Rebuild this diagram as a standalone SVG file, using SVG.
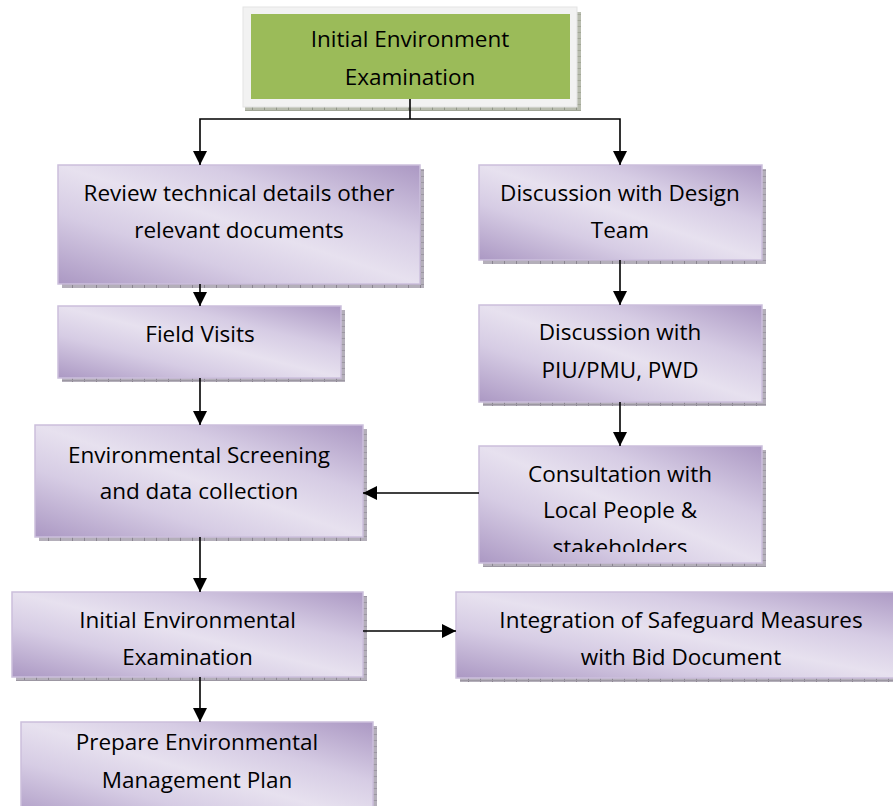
<svg xmlns="http://www.w3.org/2000/svg" width="893" height="806" viewBox="0 0 893 806">
<defs>
<linearGradient id="pg" x1="0" y1="1" x2="1" y2="0">
<stop offset="0" stop-color="#ab98c3"/>
<stop offset="0.3" stop-color="#d6cce4"/>
<stop offset="0.5" stop-color="#e7e1ef"/>
<stop offset="0.7" stop-color="#d6cce4"/>
<stop offset="1" stop-color="#ab98c3"/>
</linearGradient>
<pattern id="hatch" width="12" height="6" patternUnits="userSpaceOnUse">
<rect width="12" height="6" fill="#b4afba"/>
<rect x="0" y="0" width="1" height="6" fill="#8a8590"/>
<rect x="0" y="2" width="12" height="1" fill="#9c97a2"/>
</pattern>
<pattern id="ghatch" width="12" height="6" patternUnits="userSpaceOnUse">
<rect width="12" height="6" fill="#b8bcae"/>
<rect x="0" y="0" width="1" height="6" fill="#8f9486"/>
<rect x="0" y="2" width="12" height="1" fill="#a2a797"/>
</pattern>
<marker id="ah" viewBox="0 0 10 10" refX="10" refY="5" markerWidth="14" markerHeight="14" markerUnits="userSpaceOnUse" orient="auto">
<path d="M0,0 L10,5 L0,10 z" fill="#000"/>
</marker>
<clipPath id="clipC"><rect x="479" y="446" width="283" height="106"/></clipPath>
</defs>
<style>
.box{fill:url(#pg);stroke:#cbbfdc;stroke-width:1.5}
.sh{fill:url(#hatch)}
.t{font-family:"Open Sans","Noto Sans","Liberation Sans",sans-serif;font-size:22.5px;fill:#000;text-anchor:middle}
.c{fill:none;stroke:#000;stroke-width:1.6}
</style>

<g id="n0">
<rect x="245" y="12" width="336" height="99" fill="url(#ghatch)"/>
<rect x="243" y="7" width="334" height="100" fill="#f2f2f2" stroke="#e3e3e3"/>
<rect x="251" y="14" width="319" height="85" fill="#9bbb59"/>
<text class="t" x="410" y="47">Initial Environment</text>
<text class="t" x="410" y="85">Examination</text>
</g>

<g id="n1">
<rect class="sh" x="62" y="169" width="362" height="119"/>
<rect class="box" x="58" y="165" width="362" height="119"/>
<text class="t" x="239" y="201">Review technical details other</text>
<text class="t" x="239" y="238">relevant documents</text>
</g>

<g id="n2">
<rect class="sh" x="62" y="310" width="283" height="72"/>
<rect class="box" x="58" y="306" width="283" height="72"/>
<text class="t" x="200" y="342">Field Visits</text>
</g>

<g id="n3">
<rect class="sh" x="483" y="169" width="283" height="95"/>
<rect class="box" x="479" y="165" width="283" height="95"/>
<text class="t" x="620" y="201">Discussion with Design</text>
<text class="t" x="620" y="238">Team</text>
</g>

<g id="n4">
<rect class="sh" x="483" y="309" width="283" height="97"/>
<rect class="box" x="479" y="305" width="283" height="97"/>
<text class="t" x="620" y="340">Discussion with</text>
<text class="t" x="620" y="378">PIU/PMU, PWD</text>
</g>

<g id="n5">
<rect class="sh" x="483" y="450" width="283" height="117"/>
<rect class="box" x="479" y="446" width="283" height="117"/>
<g clip-path="url(#clipC)">
<text class="t" x="620" y="482">Consultation with</text>
<text class="t" x="620" y="518">Local People &amp;</text>
<text class="t" x="620" y="555">stakeholders</text>
</g>
</g>

<g id="n6">
<rect class="sh" x="39" y="429" width="328" height="112"/>
<rect class="box" x="35" y="425" width="328" height="112"/>
<text class="t" x="199" y="463">Environmental Screening</text>
<text class="t" x="199" y="499">and data collection</text>
</g>

<g id="n7">
<rect class="sh" x="16" y="596" width="351" height="85"/>
<rect class="box" x="12" y="592" width="351" height="85"/>
<text class="t" x="187.5" y="628">Initial Environmental</text>
<text class="t" x="187.5" y="665">Examination</text>
</g>

<g id="n8">
<rect class="sh" x="460" y="596" width="450" height="86"/>
<rect class="box" x="456" y="592" width="450" height="86"/>
<text class="t" x="681" y="628">Integration of Safeguard Measures</text>
<text class="t" x="681" y="665">with Bid Document</text>
</g>

<g id="n9">
<rect class="sh" x="25" y="726" width="352" height="100"/>
<rect class="box" x="21" y="722" width="352" height="100"/>
<text class="t" x="197" y="750">Prepare Environmental</text>
<text class="t" x="197" y="788">Management Plan</text>
</g>

<g id="connectors">
<path class="c" d="M410,99 V119"/>
<path class="c" d="M410,119 H200 V165" marker-end="url(#ah)"/>
<path class="c" d="M410,119 H620 V165" marker-end="url(#ah)"/>
<path class="c" d="M200,284 V306" marker-end="url(#ah)"/>
<path class="c" d="M620,260 V305" marker-end="url(#ah)"/>
<path class="c" d="M200,378 V425" marker-end="url(#ah)"/>
<path class="c" d="M620,402 V446" marker-end="url(#ah)"/>
<path class="c" d="M479,493 H363" marker-end="url(#ah)"/>
<path class="c" d="M200,537 V592" marker-end="url(#ah)"/>
<path class="c" d="M363,631 H456" marker-end="url(#ah)"/>
<path class="c" d="M200,677 V722" marker-end="url(#ah)"/>
</g>
</svg>
